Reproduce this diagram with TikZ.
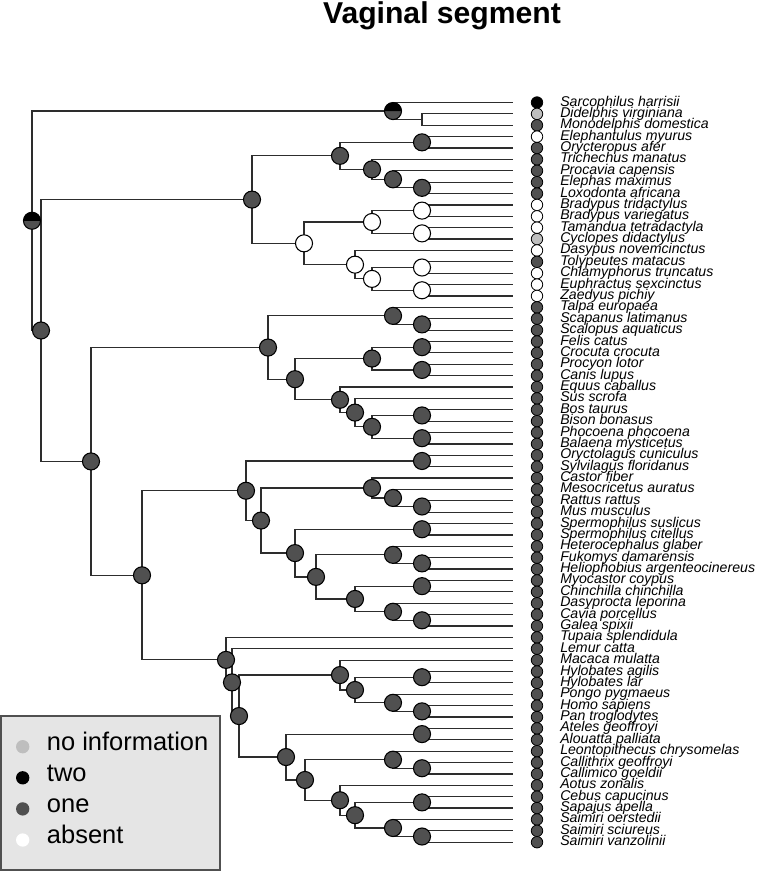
\documentclass[tikz,border=0pt]{standalone}
\usepackage{fontspec}
\setmainfont{Liberation Sans}
\usetikzlibrary{calc}

\definecolor{stNA}{RGB}{190,190,190}
\definecolor{stTwo}{RGB}{0,0,0}
\definecolor{stOne}{RGB}{80,80,80}
\definecolor{stAbs}{RGB}{255,255,255}
\definecolor{legbg}{RGB}{229,229,229}
\definecolor{edgegray}{RGB}{45,45,45}

\begin{document}
\begin{tikzpicture}[
    x=0.75pt, y=-0.75pt,
    branch/.style={draw=edgegray, line width=0.9pt},
    nodedot/.style={draw=black, line width=0.8pt},
    tipdot/.style={circle, draw=black, line width=0.6pt, minimum size=8.6pt, inner sep=0pt},
    tiplabel/.style={anchor=mid west, inner sep=0pt, font=\fontsize{10.6}{12}\selectfont\itshape},
    legdot/.style={circle, minimum size=10pt, inner sep=0pt},
    legtext/.style={anchor=mid west, inner sep=0pt, font=\fontsize{19.1}{22}\selectfont}
]
\useasboundingbox (0,0) rectangle (757,871);

% Title
\node[font=\fontsize{22.6}{26}\selectfont\bfseries, anchor=base] (title) at (442,23) {Vaginal segment};

% Tips: end of branch, state dot, species name
\foreach \i/\st/\sp in {
    1/stTwo/Sarcophilus harrisii,
    2/stNA/Didelphis virginiana,
    3/stOne/Monodelphis domestica,
    4/stAbs/Elephantulus myurus,
    5/stOne/Orycteropus afer,
    6/stOne/Trichechus manatus,
    7/stOne/Procavia capensis,
    8/stOne/Elephas maximus,
    9/stOne/Loxodonta africana,
    10/stAbs/Bradypus tridactylus,
    11/stAbs/Bradypus variegatus,
    12/stAbs/Tamandua tetradactyla,
    13/stNA/Cyclopes didactylus,
    14/stAbs/Dasypus novemcinctus,
    15/stOne/Tolypeutes matacus,
    16/stAbs/Chlamyphorus truncatus,
    17/stAbs/Euphractus sexcinctus,
    18/stAbs/Zaedyus pichiy,
    19/stOne/Talpa europaea,
    20/stOne/Scapanus latimanus,
    21/stOne/Scalopus aquaticus,
    22/stOne/Felis catus,
    23/stOne/Crocuta crocuta,
    24/stOne/Procyon lotor,
    25/stOne/Canis lupus,
    26/stOne/Equus caballus,
    27/stOne/Sus scrofa,
    28/stOne/Bos taurus,
    29/stOne/Bison bonasus,
    30/stOne/Phocoena phocoena,
    31/stOne/Balaena mysticetus,
    32/stOne/Oryctolagus cuniculus,
    33/stOne/Sylvilagus floridanus,
    34/stOne/Castor fiber,
    35/stOne/Mesocricetus auratus,
    36/stOne/Rattus rattus,
    37/stOne/Mus musculus,
    38/stOne/Spermophilus suslicus,
    39/stOne/Spermophilus citellus,
    40/stOne/Heterocephalus glaber,
    41/stOne/Fukomys damarensis,
    42/stOne/Heliophobius argenteocinereus,
    43/stOne/Myocastor coypus,
    44/stOne/Chinchilla chinchilla,
    45/stOne/Dasyprocta leporina,
    46/stOne/Cavia porcellus,
    47/stOne/Galea spixii,
    48/stOne/Tupaia splendidula,
    49/stOne/Lemur catta,
    50/stOne/Macaca mulatta,
    51/stOne/Hylobates agilis,
    52/stOne/Hylobates lar,
    53/stOne/Pongo pygmaeus,
    54/stOne/Homo sapiens,
    55/stOne/Pan troglodytes,
    56/stOne/Ateles geoffroyi,
    57/stOne/Alouatta palliata,
    58/stOne/Leontopithecus chrysomelas,
    59/stOne/Callithrix geoffroyi,
    60/stOne/Callimico goeldii,
    61/stOne/Aotus zonalis,
    62/stOne/Cebus capucinus,
    63/stOne/Sapajus apella,
    64/stOne/Saimiri oerstedii,
    65/stOne/Saimiri sciureus,
    66/stOne/Saimiri vanzolinii}{
  \pgfmathsetmacro{\ty}{102.5+11.38*(\i-1)}
  \coordinate (t\i) at (513,\ty);
  \node[tipdot, fill=\st] (d\i) at (537,\ty) {};
  \node[tiplabel] (l\i) at (560,\ty) {\sp};
}

% Clades: name / depth / first child / last child
\foreach \cn/\cx/\ca/\cb in {
    didel/422/t2/t3, marsup/393/t1/didel,
    afroins/422/t4/t5, eleph/422/t8/t9, tethy/393/t7/eleph,
    paen/372/t6/tethy, afro/340/afroins/paen,
    brady/422/t10/t11, verm/422/t12/t13, pilosa/372/brady/verm,
    tolyp/422/t15/t16, euphr/422/t17/t18, chlam/372/tolyp/euphr,
    cing/355/t14/chlam, xen/304/pilosa/cing, atl/252/afro/xen,
    talpid/422/t20/t21, eulip/393/t19/talpid,
    felcro/422/t22/t23, procan/422/t24/t25, carn/372/felcro/procan,
    bovid/422/t28/t29, cetac/422/t30/t31, rumcet/372/bovid/cetac,
    cetart/355/t27/rumcet, euung/340/t26/cetart,
    scrot/295/carn/euung, laur/268/eulip/scrot,
    lago/422/t32/t33, murin/422/t36/t37, muro/393/t35/murin,
    castmy/372/t34/muro, sperm/422/t38/t39,
    fukhel/422/t41/t42, bathy/393/t40/fukhel,
    myochin/422/t43/t44, caviid/422/t46/t47, cavioid/393/t45/caviid,
    cavmorph/355/myochin/cavioid, hystr/316/bathy/cavmorph,
    scihys/295/sperm/hystr, rod/261/castmy/scihys, glires/246/lago/rod,
    hylob/422/t51/t52, hompan/422/t54/t55, hominid/393/t53/hompan,
    hominoid/355/hylob/hominid, catar/340/t50/hominoid,
    atel/422/t56/t57, calgoe/422/t59/t60, callit/393/t58/calgoe,
    cebsap/422/t62/t63, saisv/422/t65/t66, saimiri/393/t64/saisv,
    cebsai/355/cebsap/saimiri, cebid/340/t61/cebsai,
    callceb/305/callit/cebid, platy/286/atel/callceb,
    anthro/239/catar/platy, prim/232/t49/anthro, euarch/226/t48/prim,
    euarchgl/142/glires/euarch, boreo/91/laur/euarchgl,
    plac/41/atl/boreo, root/32/marsup/plac}{
  \path let \p1=($(\ca)!0.5!(\cb)$) in coordinate (\cn) at (\cx*0.75pt,\y1);
  \draw[branch] (\cn) |- (\ca) (\cn) |- (\cb);
}

% Ancestral states
\foreach \c in {afroins, eleph, tethy, paen, afro, atl,
    talpid, eulip, felcro, procan, carn, bovid, cetac, rumcet, cetart,
    euung, scrot, laur, lago, murin, muro, castmy, sperm, fukhel, bathy,
    myochin, caviid, cavioid, cavmorph, hystr, scihys, rod, glires,
    hylob, hompan, hominid, hominoid, catar, atel, calgoe, callit,
    cebsap, saisv, saimiri, cebsai, cebid, callceb, platy, anthro,
    prim, euarch, euarchgl, boreo, plac}
  \filldraw[nodedot, fill=stOne] (\c) circle[radius=6.4pt];
\foreach \c in {brady, verm, pilosa, tolyp, euphr, chlam, cing, xen}
  \filldraw[nodedot, fill=stAbs] (\c) circle[radius=6.4pt];
\foreach \c in {marsup, root}{
  \fill[stOne] (\c) circle[radius=6.4pt];
  \fill[stTwo] ([xshift=6.4pt]\c) arc[start angle=0, end angle=180, radius=6.4pt] -- cycle;
  \draw[nodedot] (\c) circle[radius=6.4pt];
}

% Legend
\draw[draw=stOne, fill=legbg, line width=0.8pt] (1,716) rectangle (220,870);
\foreach \col/\txt [count=\j] in {stNA/no information, stTwo/two, stOne/one, stAbs/absent}{
  \pgfmathsetmacro{\ly}{746.7+31.1*(\j-1)}
  \node[legdot, fill=\col] (k\j) at (22.7,\ly) {};
  \node[legtext] (kt\j) at (46.7,\ly) {\txt};
}

\end{tikzpicture}
\end{document}
